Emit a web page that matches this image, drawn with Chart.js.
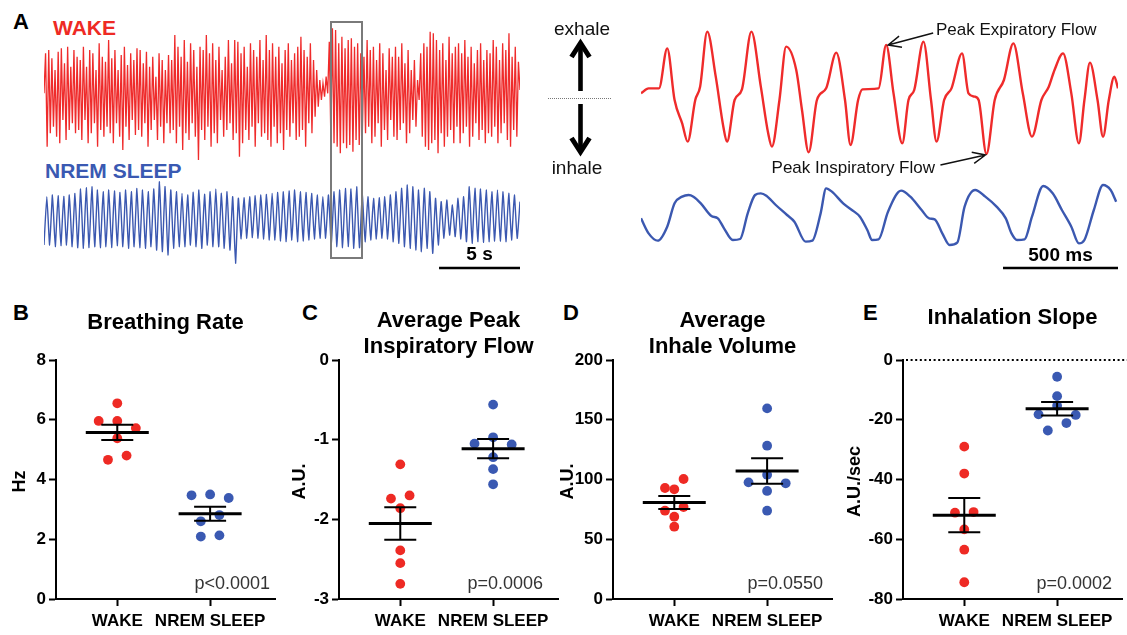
<!DOCTYPE html>
<html><head><meta charset="utf-8">
<script src="https://cdn.jsdelivr.net/npm/chart.js"></script>
<style>
html,body{margin:0;padding:0;background:#fff;}
body{width:1127px;height:635px;position:relative;overflow:hidden;font-family:'Liberation Sans',Arial,Helvetica,sans-serif;}
canvas{position:absolute;}
.lbl{position:absolute;font-weight:bold;white-space:nowrap;line-height:1;}
#box{position:absolute;left:330px;top:21px;width:33px;height:238px;border:2.6px solid #7a7a7a;box-sizing:border-box;}
</style></head><body>
<div class="lbl" style="left:13px;top:11px;font-size:22px;">A</div>
<div class="lbl" style="left:53px;top:17px;font-size:21px;color:#ee2a24;">WAKE</div>
<div class="lbl" style="left:45px;top:160px;font-size:21px;color:#3a59b2;">NREM SLEEP</div>
<div class="lbl" style="left:13px;top:302px;font-size:22px;">B</div>
<div class="lbl" style="left:302px;top:302px;font-size:22px;">C</div>
<div class="lbl" style="left:563px;top:302px;font-size:22px;">D</div>
<div class="lbl" style="left:863px;top:302px;font-size:22px;">E</div>

<canvas id="cWake" width="476" height="160" style="left:44px;top:15px"></canvas>
<canvas id="cNrem" width="476" height="105" style="left:44px;top:180px"></canvas>
<canvas id="cZoom" width="587" height="285" style="left:540px;top:0px"></canvas>
<canvas id="cB" width="280" height="345" style="left:0px;top:290px"></canvas>
<canvas id="cC" width="280" height="345" style="left:283px;top:290px"></canvas>
<canvas id="cD" width="280" height="345" style="left:557px;top:290px"></canvas>
<canvas id="cE" width="280" height="345" style="left:847px;top:290px"></canvas>
<div id="box"></div>

<script>
const FONT = "'Liberation Sans', Arial, Helvetica, sans-serif";
const RED = '#ee2a24';
const BLUE = '#3a59b2';
const TRACE_RED = '#ef2b2b';
const TRACE_BLUE = '#3b58b0';

// ---------- Panel A: long traces (A.U., exhale positive) ----------
const traceDuration = 29.4; // seconds shown in the long traces
const wakeStart = -0.10;
const wakePeaks = [
 1.10,1.20,0.95,0.60,1.15,1.25,0.80,1.30,0.70,1.20,
 1.00,0.90,1.30,0.70,1.20,1.10,0.60,1.40,1.00,0.85,
 1.50,0.95,1.20,0.60,1.05,1.30,0.75,1.10,0.90,1.25,
 1.20,0.80,1.15,0.70,1.00,0.40,1.10,0.90,0.60,1.05,
 0.90,1.65,1.30,1.00,1.50,0.85,1.40,1.20,0.70,1.30,
 1.20,1.65,1.10,1.40,0.90,1.30,0.60,1.00,1.50,0.80,
 1.50,1.45,1.10,1.30,0.70,1.40,1.20,1.00,1.50,0.90,
 1.65,1.20,1.40,1.00,1.30,0.80,1.20,1.40,0.90,1.10,
 1.30,1.60,1.20,1.00,1.40,0.90,0.60,0.30,0.20,0.40,
 1.45,1.85,1.80,1.40,1.60,1.25,1.50,1.55,1.30,1.40,1.10,
 1.00,1.50,1.20,1.30,0.90,1.40,1.10,0.60,1.25,1.00,
 1.30,1.00,1.40,0.80,1.20,0.60,0.90,0.30,1.10,1.40,
 1.30,1.75,1.70,1.50,1.20,1.40,0.90,1.60,1.10,1.30,
 1.40,1.10,1.50,1.00,1.30,0.80,1.20,1.40,0.90,1.20,
 1.10,1.50,1.30,0.90,1.40,1.20,1.70,1.00,1.30,0.85];
const wakeTroughs = [
 -1.70,-1.30,-1.10,-1.40,-1.60,-0.90,-1.50,-1.20,-1.00,-1.30,
 -1.20,-1.50,-0.90,-1.60,-1.30,-1.00,-1.70,-1.20,-1.40,-1.10,
 -1.30,-1.60,-1.00,-1.40,-1.80,-1.10,-1.50,-0.90,-1.35,-1.20,
 -1.40,-1.00,-1.70,-1.20,-0.90,-1.50,-1.10,-1.60,-1.00,-1.30,
 -1.20,-1.60,-1.10,-1.80,-1.30,-1.50,-1.00,-1.40,-2.10,-1.20,
 -1.50,-1.10,-1.70,-1.30,-1.60,-0.90,-1.40,-1.20,-1.00,-1.50,
 -1.30,-2.00,-1.60,-1.20,-1.50,-1.10,-1.70,-1.00,-1.40,-1.30,
 -1.50,-1.70,-1.10,-1.60,-1.30,-1.80,-1.20,-1.40,-1.00,-1.50,
 -1.40,-1.20,-1.70,-1.00,-1.30,-0.80,-0.50,-0.30,-0.20,-0.10,
 -1.50,-1.60,-1.70,-1.90,-1.60,-1.75,-1.65,-1.85,-1.50,-1.65,-1.20,
 -1.30,-1.10,-1.60,-1.40,-1.00,-1.70,-1.20,-1.50,-0.90,-1.40,
 -1.50,-1.20,-1.00,-1.60,-1.30,-0.90,-1.10,-0.30,-1.40,-1.70,
 -1.80,-1.60,-1.50,-1.90,-1.30,-1.70,-1.40,-1.20,-1.60,-1.10,
 -1.60,-1.30,-1.10,-1.70,-1.40,-1.00,-1.50,-1.20,-1.60,-1.30,
 -1.40,-1.10,-1.60,-1.30,-1.00,-1.50,-1.70,-1.20,-1.40,0.00];

const nremStart = -0.80, nremEnd = 0.50;
const nremPeaks = [
 0.65,0.70,0.68,0.66,0.70,0.75,0.88,0.92,0.95,0.85,
 0.80,0.85,0.82,0.78,0.85,0.80,0.90,0.85,0.80,0.88,
 1.10,0.95,0.85,0.80,0.75,0.70,0.78,0.85,0.72,0.80,
 0.88,0.75,0.80,0.65,0.60,0.62,0.65,0.68,0.70,0.72,
 0.75,0.78,0.80,0.82,0.85,0.80,0.78,0.75,0.70,0.65,
 0.70,0.80,0.85,0.90,0.88,0.95,0.70,0.65,0.60,0.62,
 0.65,0.70,0.80,0.90,1.00,0.95,0.85,0.90,0.80,0.60,
 0.50,0.55,0.40,0.60,0.65,0.95,0.90,0.88,0.85,0.80,
 0.85,0.80,0.75,0.70];
const nremTroughs = [
 -0.80,-0.85,-0.82,-0.80,-0.85,-0.88,-0.90,-0.88,-0.85,-0.88,
 -0.85,-0.88,-0.82,-0.85,-0.90,-0.85,-0.88,-0.90,-0.85,-0.95,
 -1.00,-1.10,-0.90,-0.85,-0.85,-0.80,-0.85,-0.90,-0.80,-0.85,
 -0.85,-0.90,-0.95,-1.35,-0.62,-0.60,-0.58,-0.60,-0.62,-0.65,
 -0.65,-0.68,-0.70,-0.65,-0.70,-0.68,-0.65,-0.62,-0.60,-0.60,
 -0.80,-0.85,-0.88,-0.85,-0.90,-0.88,-0.70,-0.65,-0.62,-0.60,
 -0.62,-0.70,-0.75,-0.85,-0.90,-0.95,-1.00,-0.90,-1.05,-0.80,
 -0.60,-0.50,-0.55,-0.62,-0.70,-0.75,-0.70,-0.72,-0.70,-0.68,
 -0.68,-0.70,-0.65,-0.60];

// ---------- Panel A: zoomed 2 s window ----------
const zoomDuration = 2074; // ms
const zoomRedT = [0,33,78,114,146,179,203,236,257,288,325,358,374,407,439,480,521,553,569,602,631,675,700,729,765,805,849,887,911,944,963,1033,1066,1098,1136,1163,1188,1228,1261,1285,1318,1350,1396,1424,1451,1468,1502,1538,1578,1619,1660,1700,1741,1773,1798,1835,1871,1904,1928,1952,1985,2009,2034,2058,2074];
const zoomRedV = [0.15,0.30,0.30,1.50,-0.05,-0.75,-1.30,-0.05,0.35,2.00,0.65,-0.85,-1.30,-0.05,0.27,2.00,0.35,-1.05,-1.45,-0.05,1.55,0.85,-0.35,-1.62,-0.05,0.30,1.37,-0.05,-1.40,-0.05,0.27,0.30,1.60,0.15,-1.35,-0.05,0.25,1.70,-0.05,-1.30,-0.05,0.30,1.35,0.15,0.05,-0.05,-1.67,-0.05,0.55,1.65,0.15,-1.15,-0.05,0.35,0.85,1.35,0.15,-1.35,-0.05,1.07,-0.05,-1.15,-0.05,0.65,0.30];
const zoomBlueT = [0,33,73,114,146,179,207,228,260,306,334,361,399,431,464,496,521,545,586,635,667,716,745,781,805,830,879,927,952,984,1005,1033,1074,1131,1171,1220,1253,1277,1310,1342,1375,1407,1453,1497,1546,1586,1611,1635,1668,1700,1749,1790,1830,1871,1904,1928,1969,2009,2042,2066];
const zoomBlueV = [-0.10,-0.55,-0.77,-0.35,0.35,0.55,0.60,0.55,0.35,-0.03,-0.10,-0.40,-0.75,-0.72,0.05,0.60,0.65,0.58,0.30,0.00,-0.20,-0.80,-0.77,0.05,0.80,0.70,0.35,0.10,-0.05,-0.45,-0.75,-0.73,0.10,0.73,0.55,0.15,-0.10,-0.13,-0.55,-0.90,-0.83,0.25,0.75,0.55,0.25,-0.10,-0.55,-0.75,-0.73,-0.05,0.87,0.65,0.15,-0.35,-0.85,-0.75,0.15,0.90,0.75,0.40];
const peakExpiratoryT = 1066;   // annotated peak (ms)
const peakInspiratoryT = 1502;  // annotated trough (ms)

// ---------- Panels B–E ----------
const groups = ['WAKE', 'NREM SLEEP'];
const rateWake  = [6.55, 5.96, 5.96, 5.72, 5.38, 4.80, 4.66];
const rateNrem  = [3.50, 3.47, 3.38, 2.81, 2.60, 2.13, 2.09];
const pifWake   = [-1.31, -1.70, -1.74, -1.86, -2.39, -2.55, -2.81];
const pifNrem   = [-0.56, -0.97, -1.05, -1.06, -1.22, -1.37, -1.56];
const volWake   = [100.4, 92.9, 91.8, 77.0, 73.9, 68.9, 60.5];
const volNrem   = [159.5, 128.3, 104.0, 97.6, 96.8, 90.4, 73.9];
const slopeWake = [-29.0, -38.0, -50.9, -51.1, -56.7, -63.5, -74.4];
const slopeNrem = [-5.6, -12.1, -15.3, -18.2, -18.4, -21.1, -23.6];
const pValues   = ['p<0.0001', 'p=0.0006', 'p=0.0550', 'p=0.0002'];

// ===================================================================
const common = {responsive:false, animation:false, devicePixelRatio:1, events:[],
  plugins:{legend:{display:false}, tooltip:{enabled:false}, title:{display:false}}};

function extremaSeries(start, peaks, troughs, end, dur){
  const v=[start];
  peaks.forEach((p,i)=>{v.push(p); v.push(troughs[i]);});
  if(end!==undefined) v.push(end);
  const dt=dur/(v.length-1);
  return v.map((y,i)=>({x:i*dt,y}));
}

// Long wake trace
new Chart(document.getElementById('cWake'), {
  type:'line',
  data:{datasets:[{data:extremaSeries(wakeStart,wakePeaks,wakeTroughs,undefined,traceDuration),
    borderColor:TRACE_RED,borderWidth:1.3,pointRadius:0,tension:0}]},
  options:Object.assign({}, common, {layout:{padding:0},
    scales:{x:{type:'linear',display:false,min:0,max:traceDuration},
            y:{display:false,min:-2.55,max:2.25}}})
});

const scaleBar5 = {id:'scaleBar5', afterDraw(chart){
  const {ctx}=chart, xs=chart.scales.x;
  const x1=xs.getPixelForValue(xs.max), x0=xs.getPixelForValue(xs.max-5);
  ctx.save(); ctx.strokeStyle='#000'; ctx.lineWidth=2.6;
  ctx.beginPath(); ctx.moveTo(x0,88); ctx.lineTo(x1,88); ctx.stroke();
  ctx.fillStyle='#000'; ctx.font=`bold 19px ${FONT}`; ctx.textAlign='center'; ctx.textBaseline='alphabetic';
  ctx.fillText('5 s',(x0+x1)/2,80);
  ctx.restore();
}};
new Chart(document.getElementById('cNrem'), {
  type:'line',
  data:{datasets:[{data:extremaSeries(nremStart,nremPeaks,nremTroughs,nremEnd,traceDuration),
    borderColor:TRACE_BLUE,borderWidth:1.4,pointRadius:0,tension:0.15}]},
  options:Object.assign({}, common, {layout:{padding:0},
    scales:{x:{type:'linear',display:false,min:0,max:traceDuration},
            y:{display:false,min:-2.00,max:1.15}}}),
  plugins:[scaleBar5]
});

// Zoomed window
function bigArrow(ctx,x,yFrom,yTip){
  const d=Math.sign(yTip-yFrom);
  ctx.save(); ctx.strokeStyle='#000'; ctx.lineWidth=4.6; ctx.lineCap='butt'; ctx.lineJoin='miter';
  ctx.beginPath(); ctx.moveTo(x,yFrom); ctx.lineTo(x,yTip-d*4); ctx.stroke();
  ctx.lineWidth=5; ctx.beginPath(); ctx.moveTo(x-9,yTip-d*17); ctx.lineTo(x,yTip-d*3); ctx.lineTo(x+9,yTip-d*17); ctx.stroke();
  ctx.restore();
}
function thinArrow(ctx,fx,fy,tx,ty){
  const a=Math.atan2(ty-fy,tx-fx), L=14, s=0.42;
  ctx.save(); ctx.strokeStyle='#111'; ctx.lineWidth=1.5;
  ctx.beginPath(); ctx.moveTo(fx,fy); ctx.lineTo(tx,ty);
  ctx.moveTo(tx-L*Math.cos(a-s),ty-L*Math.sin(a-s)); ctx.lineTo(tx,ty); ctx.lineTo(tx-L*Math.cos(a+s),ty-L*Math.sin(a+s));
  ctx.stroke(); ctx.restore();
}
const zoomDeco = {id:'zoomDeco', afterDraw(chart){
  const {ctx}=chart, xs=chart.scales.x, yr=chart.scales.y;
  ctx.save();
  ctx.fillStyle='#111'; ctx.textBaseline='alphabetic'; ctx.textAlign='center';
  ctx.font=`19px ${FONT}`;
  ctx.fillText('exhale',42,35);
  ctx.fillText('inhale',37,174);
  const y0=Math.round(yr.getPixelForValue(0))+0.5;
  ctx.save(); ctx.strokeStyle='#777'; ctx.lineWidth=1; ctx.setLineDash([1,1]);
  ctx.beginPath(); ctx.moveTo(8,y0); ctx.lineTo(72,y0); ctx.stroke(); ctx.restore();
  bigArrow(ctx,40.5,91,40);
  bigArrow(ctx,40.5,104,155);
  ctx.font=`17px ${FONT}`; ctx.textAlign='left';
  ctx.fillText('Peak Expiratory Flow',396,35);
  ctx.textAlign='right';
  ctx.fillText('Peak Inspiratory Flow',395,173);
  const red=chart.data.datasets[0].data;
  const pe=red.find(p=>p.x===peakExpiratoryT), pi=red.find(p=>p.x===peakInspiratoryT);
  const pex=xs.getPixelForValue(pe.x), pey=yr.getPixelForValue(pe.y);
  const pix=xs.getPixelForValue(pi.x), piy=yr.getPixelForValue(pi.y);
  thinArrow(ctx,pex+47,pey-12,pex+2,pey);
  thinArrow(ctx,pix-46,piy+11,pix-1,piy+1);
  const x1=xs.getPixelForValue(xs.max), x0=xs.getPixelForValue(xs.max-500);
  ctx.strokeStyle='#000'; ctx.lineWidth=2.6;
  ctx.beginPath(); ctx.moveTo(x0,268); ctx.lineTo(x1,268); ctx.stroke();
  ctx.font=`bold 19px ${FONT}`; ctx.textAlign='center'; ctx.fillStyle='#000';
  ctx.fillText('500 ms',(x0+x1)/2,260.5);
  ctx.restore();
}};
new Chart(document.getElementById('cZoom'), {
  type:'line',
  data:{datasets:[
    {data:zoomRedT.map((t,i)=>({x:t,y:zoomRedV[i]})),yAxisID:'y',borderColor:TRACE_RED,borderWidth:2.4,pointRadius:0,cubicInterpolationMode:'monotone'},
    {data:zoomBlueT.map((t,i)=>({x:t,y:zoomBlueV[i]})),yAxisID:'y2',borderColor:TRACE_BLUE,borderWidth:2.4,pointRadius:0,cubicInterpolationMode:'monotone'}
  ]},
  options:Object.assign({}, common, {layout:{padding:{left:101,right:9,top:0,bottom:0}},
    scales:{x:{type:'linear',display:false,min:0,max:zoomDuration},
            y:{display:false,min:-5.60,max:2.95},
            y2:{display:false,min:-2.10,max:6.45}}}),
  plugins:[zoomDeco]
});

// ---------- scatter panels ----------
const X_MIN=0.34, X_MAX=2.70, PLOT_W=224, PLOT_H=239, STEP=19, DIAM=9.5;
function swarm(vals, cat, yPx, xPx){
  const idx=vals.map((v,i)=>i).sort((a,b)=>vals[b]-vals[a]||a-b);
  const placed=[], parent={};
  const find=i=>parent[i]===i?i:(parent[i]=find(parent[i]));
  const cands=[0,-1,1,-2,2,-3,3];
  idx.forEach(i=>{
    parent[i]=i; const py=vals[i]*yPx; let chosen=0;
    for(const c of cands){
      const off=c*STEP;
      const hits=placed.filter(p=>Math.hypot(p.off-off,p.py-py)<DIAM);
      if(!hits.length){chosen=off;break;}
      hits.forEach(h=>{parent[find(h.i)]=find(i);});
    }
    placed.push({i,off:chosen,py});
  });
  const sum={},cnt={};
  placed.forEach(p=>{const r=find(p.i); sum[r]=(sum[r]||0)+p.off; cnt[r]=(cnt[r]||0)+1;});
  return placed.map(p=>{const r=find(p.i); return {x:cat+(p.off-sum[r]/cnt[r])/xPx, y:vals[p.i]};});
}

const meanSem={id:'meanSem', afterDatasetsDraw(chart,args,o){
  const {ctx}=chart, xs=chart.scales.x, ys=chart.scales.y;
  ctx.save(); ctx.strokeStyle='#000'; ctx.lineCap='butt';
  o.groups.forEach((vals,k)=>{
    const n=vals.length, m=vals.reduce((a,b)=>a+b,0)/n;
    const se=Math.sqrt(vals.reduce((a,b)=>a+(b-m)*(b-m),0)/(n-1))/Math.sqrt(n);
    const cx=xs.getPixelForValue(k+1), ym=ys.getPixelForValue(m), yt=ys.getPixelForValue(m+se), yb=ys.getPixelForValue(m-se);
    ctx.lineWidth=2;
    ctx.beginPath(); ctx.moveTo(cx,yt); ctx.lineTo(cx,yb);
    ctx.moveTo(cx-16,yt); ctx.lineTo(cx+16,yt);
    ctx.moveTo(cx-16,yb); ctx.lineTo(cx+16,yb); ctx.stroke();
    ctx.lineWidth=3;
    ctx.beginPath(); ctx.moveTo(cx-31.5,ym); ctx.lineTo(cx+31.5,ym); ctx.stroke();
  });
  ctx.restore();
}};
const panelDeco={id:'panelDeco',
  beforeDatasetsDraw(chart,args,o){
    if(!o.zeroLine) return;
    const {ctx}=chart, a=chart.chartArea, y=chart.scales.y.getPixelForValue(0);
    ctx.save(); ctx.strokeStyle='#000'; ctx.lineWidth=2; ctx.setLineDash([2,2.6]);
    ctx.beginPath(); ctx.moveTo(a.left+3,y); ctx.lineTo(chart.width,y); ctx.stroke(); ctx.restore();
  },
  afterDraw(chart,args,o){
    const {ctx}=chart, a=chart.chartArea;
    ctx.save(); ctx.fillStyle='#000'; ctx.textBaseline='alphabetic'; ctx.textAlign='center';
    ctx.font=`bold 22px ${FONT}`;
    const cx=(a.left+a.right)/2;
    o.title.forEach((t,i)=>ctx.fillText(t,cx,o.titleBase[i]));
    ctx.save(); ctx.translate(o.yTitleX,(a.top+a.bottom)/2+2); ctx.rotate(-Math.PI/2);
    ctx.font=`bold 18px ${FONT}`; ctx.textBaseline='middle'; ctx.fillText(o.yTitle,0,0); ctx.restore();
    ctx.font=`18px ${FONT}`; ctx.fillStyle='#333'; ctx.textAlign='right';
    ctx.fillText(o.p,a.right-o.pRight,a.bottom-10);
    ctx.restore();
  }};

function panel(id, wake, nrem, min, max, step, deco){
  const yPx=PLOT_H/(max-min), xPx=PLOT_W/(X_MAX-X_MIN);
  const tickFont={family:FONT,size:17,weight:'bold'};
  new Chart(document.getElementById(id), {
    type:'scatter',
    data:{datasets:[
      {data:swarm(wake,1,yPx,xPx),backgroundColor:RED,borderColor:RED,borderWidth:0,pointRadius:4.9,pointHoverRadius:4.9},
      {data:swarm(nrem,2,yPx,xPx),backgroundColor:BLUE,borderColor:BLUE,borderWidth:0,pointRadius:4.9,pointHoverRadius:4.9}
    ]},
    options:{responsive:false,animation:false,devicePixelRatio:1,events:[],
      layout:{padding:{top:70,right:0,left:0,bottom:0}},
      plugins:{legend:{display:false},tooltip:{enabled:false},title:{display:false},
        meanSem:{groups:[wake,nrem]}, panelDeco:deco},
      scales:{
        x:{type:'linear',min:X_MIN,max:X_MAX,
          afterBuildTicks:ax=>{ax.ticks=[{value:1},{value:2}];},
          ticks:{callback:v=>groups[v-1],color:'#000',font:tickFont,padding:5,maxRotation:0,autoSkip:false},
          grid:{drawOnChartArea:false,drawTicks:true,tickLength:7,tickWidth:2,tickColor:'#000'},
          border:{display:true,color:'#000',width:2},
          afterFit:ax=>{ax.height=36;}},
        y:{min,max,
          ticks:{stepSize:step,color:'#000',font:tickFont,padding:3},
          grid:{drawOnChartArea:false,drawTicks:true,tickLength:7,tickWidth:2,tickColor:'#000'},
          border:{display:true,color:'#000',width:2},
          afterFit:ax=>{ax.width=56;}}
      }},
    plugins:[meanSem,panelDeco]
  });
}
panel('cB',rateWake,rateNrem,0,8,2,{title:['Breathing Rate'],titleBase:[39],yTitle:'Hz',yTitleX:20,p:pValues[0],pRight:5});
panel('cC',pifWake,pifNrem,-3,0,1,{title:['Average Peak','Inspiratory Flow'],titleBase:[37,63],yTitle:'A.U.',yTitleX:17,p:pValues[1],pRight:15});
panel('cD',volWake,volNrem,0,200,50,{title:['Average','Inhale Volume'],titleBase:[37,63],yTitle:'A.U.',yTitleX:11,p:pValues[2],pRight:9});
panel('cE',slopeWake,slopeNrem,-80,0,20,{title:['Inhalation Slope'],titleBase:[34],yTitle:'A.U./sec',yTitleX:8,p:pValues[3],pRight:10,zeroLine:true});
</script>
</body></html>
